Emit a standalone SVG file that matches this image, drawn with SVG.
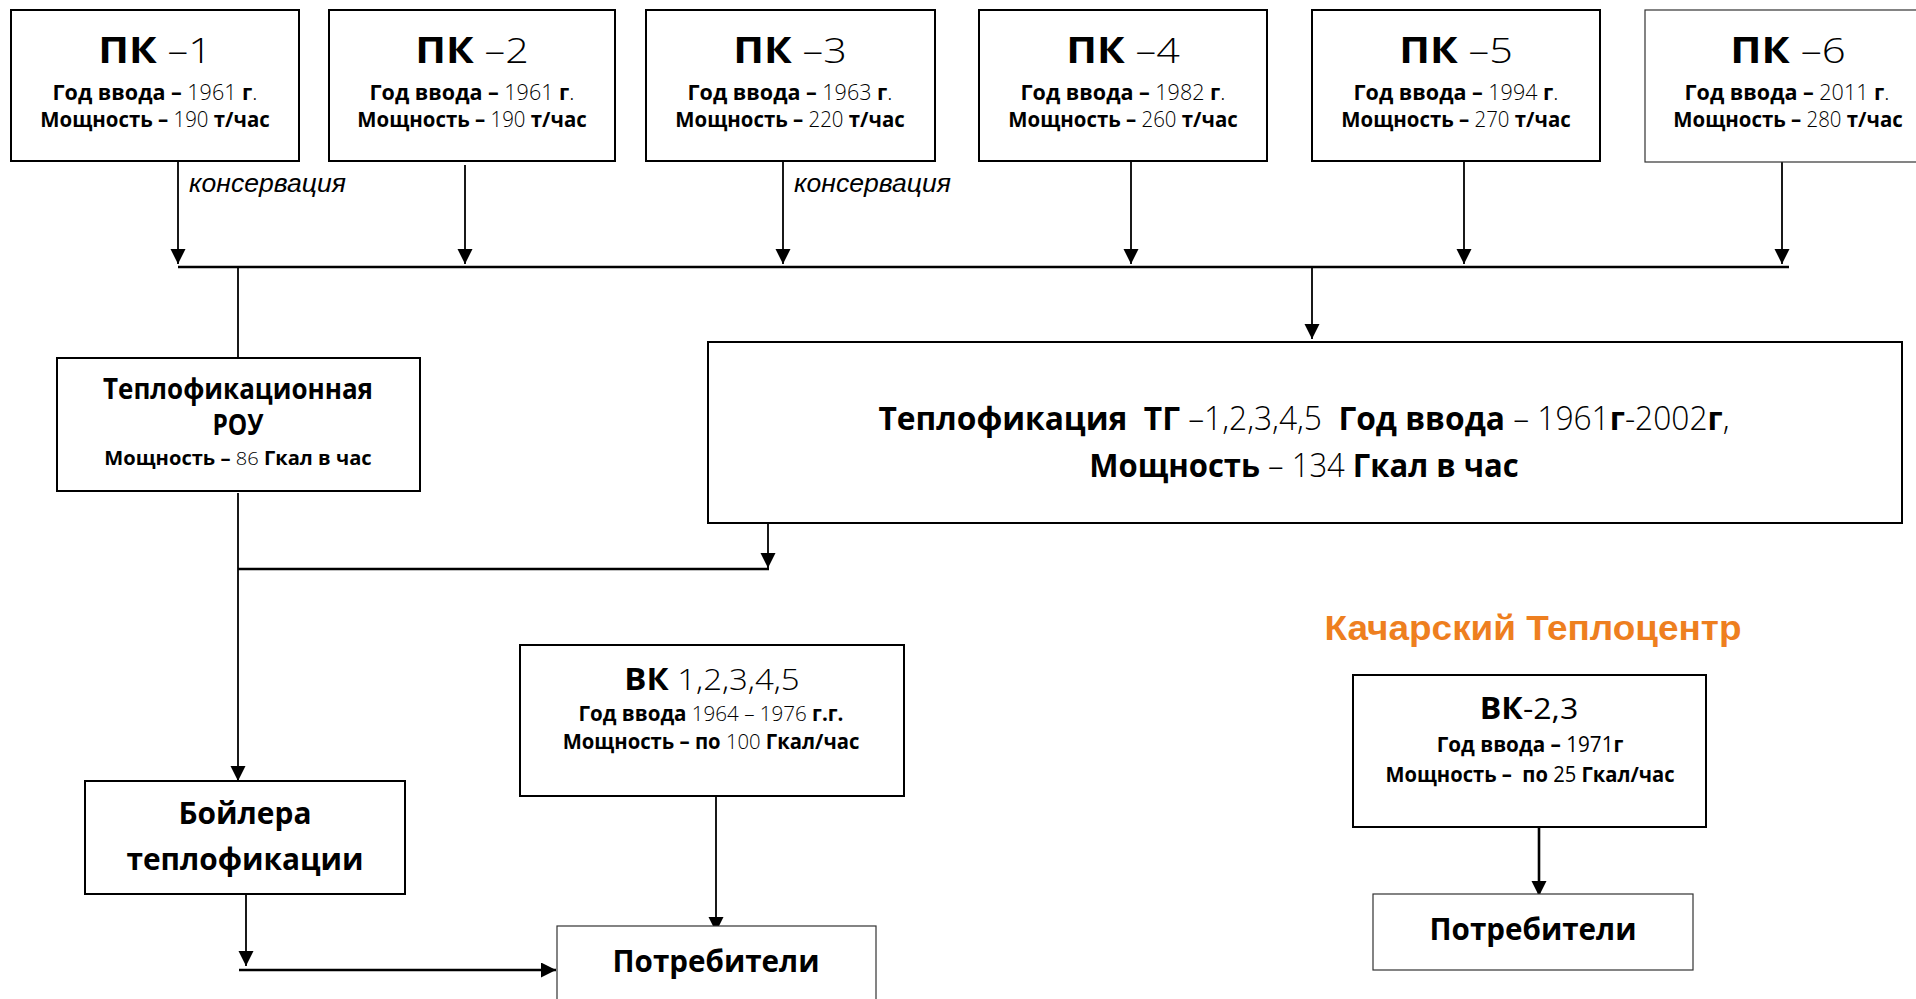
<svg xmlns="http://www.w3.org/2000/svg" width="1916" height="999" viewBox="0 0 1916 999">
<style>
.bg{fill:#fff}
.box{fill:#fff;stroke:#000;stroke-width:2}
.thin{fill:#fff;stroke:#333;stroke-width:1.2}
text{font-family:"Open Sans","Noto Sans","DejaVu Sans",sans-serif;font-weight:700;fill:#000;text-anchor:middle}
.n{font-weight:300}
.r{font-weight:400}
.t1{font-size:35px}
.t2{font-size:21.5px}
.t3{font-size:30px}
.tg{font-size:33px}
.it{font-family:"Liberation Sans",Arial,sans-serif;font-style:italic;font-weight:400;font-size:26px;text-anchor:start}
.org{font-family:"Liberation Sans",Arial,sans-serif;font-weight:700;font-size:35px;fill:#EE7F1F}
.c{fill:none;stroke:#000;stroke-width:1.8}
.bus{fill:none;stroke:#000;stroke-width:2.6}
</style>
<defs>
<marker id="ah" markerUnits="userSpaceOnUse" markerWidth="16" markerHeight="16" refX="15" refY="7.5" orient="auto">
<path d="M0,0 L15,7.5 L0,15 z" fill="#000"/>
</marker>
</defs>
<rect class="bg" x="0" y="0" width="1916" height="999"/>

<g id="connectors">
<line class="c" x1="178" y1="161" x2="178" y2="264" marker-end="url(#ah)"/>
<line class="c" x1="465" y1="165" x2="465" y2="264" marker-end="url(#ah)"/>
<line class="c" x1="783" y1="161" x2="783" y2="264" marker-end="url(#ah)"/>
<line class="c" x1="1131" y1="161" x2="1131" y2="264" marker-end="url(#ah)"/>
<line class="c" x1="1464" y1="161" x2="1464" y2="264" marker-end="url(#ah)"/>
<line class="c" x1="1782" y1="162" x2="1782" y2="264" marker-end="url(#ah)"/>
<line class="bus" x1="178" y1="267" x2="1789" y2="267"/>
<line class="c" x1="238" y1="267" x2="238" y2="358"/>
<line class="c" x1="1312" y1="267" x2="1312" y2="339" marker-end="url(#ah)"/>
<line class="c" x1="238" y1="493" x2="238" y2="781" marker-end="url(#ah)"/>
<line class="bus" x1="238" y1="569" x2="769" y2="569"/>
<line class="c" x1="768" y1="524" x2="768" y2="568" marker-end="url(#ah)"/>
<line class="c" x1="246" y1="894" x2="246" y2="966" marker-end="url(#ah)"/>
<line class="bus" x1="239" y1="970" x2="556" y2="970" marker-end="url(#ah)"/>
<line class="c" x1="716" y1="797" x2="716" y2="932" marker-end="url(#ah)"/>
<line class="bus" x1="1539" y1="827" x2="1539" y2="896" marker-end="url(#ah)"/>
<text class="it" x="189" y="192" textLength="157" lengthAdjust="spacingAndGlyphs">консервация</text>
<text class="it" x="794" y="192" textLength="157" lengthAdjust="spacingAndGlyphs">консервация</text>
</g>

<g id="pk1">
<rect class="box" x="11" y="10" width="288" height="151"/>
<text class="t1" transform="translate(155,63) scale(1.18,1)">ПК<tspan class="n"> –1</tspan></text>
<text class="t2" transform="translate(155,100) scale(1.0,1)">Год ввода –<tspan class="n"> 1961 </tspan>г<tspan class="n">.</tspan></text>
<text class="t2" transform="translate(155,127) scale(0.95,1)">Мощность –<tspan class="n"> 190 </tspan>т/час</text>
</g>
<g id="pk2">
<rect class="box" x="329" y="10" width="286" height="151"/>
<text class="t1" transform="translate(472,63) scale(1.18,1)">ПК<tspan class="n"> –2</tspan></text>
<text class="t2" transform="translate(472,100) scale(1.0,1)">Год ввода –<tspan class="n"> 1961 </tspan>г<tspan class="n">.</tspan></text>
<text class="t2" transform="translate(472,127) scale(0.95,1)">Мощность –<tspan class="n"> 190 </tspan>т/час</text>
</g>
<g id="pk3">
<rect class="box" x="646" y="10" width="289" height="151"/>
<text class="t1" transform="translate(790,63) scale(1.18,1)">ПК<tspan class="n"> –3</tspan></text>
<text class="t2" transform="translate(790,100) scale(1.0,1)">Год ввода –<tspan class="n"> 1963 </tspan>г<tspan class="n">.</tspan></text>
<text class="t2" transform="translate(790,127) scale(0.95,1)">Мощность –<tspan class="n"> 220 </tspan>т/час</text>
</g>
<g id="pk4">
<rect class="box" x="979" y="10" width="288" height="151"/>
<text class="t1" transform="translate(1123,63) scale(1.18,1)">ПК<tspan class="n"> –4</tspan></text>
<text class="t2" transform="translate(1123,100) scale(1.0,1)">Год ввода –<tspan class="n"> 1982 </tspan>г<tspan class="n">.</tspan></text>
<text class="t2" transform="translate(1123,127) scale(0.95,1)">Мощность –<tspan class="n"> 260 </tspan>т/час</text>
</g>
<g id="pk5">
<rect class="box" x="1312" y="10" width="288" height="151"/>
<text class="t1" transform="translate(1456,63) scale(1.18,1)">ПК<tspan class="n"> –5</tspan></text>
<text class="t2" transform="translate(1456,100) scale(1.0,1)">Год ввода –<tspan class="n"> 1994 </tspan>г<tspan class="n">.</tspan></text>
<text class="t2" transform="translate(1456,127) scale(0.95,1)">Мощность –<tspan class="n"> 270 </tspan>т/час</text>
</g>
<g id="pk6">
<rect class="thin" x="1645" y="10" width="290" height="152"/>
<text class="t1" transform="translate(1788,63) scale(1.2,1)">ПК<tspan class="n"> –6</tspan></text>
<text class="t2" transform="translate(1787,100) scale(1.0,1)">Год ввода –<tspan class="n"> 2011 </tspan>г<tspan class="n">.</tspan></text>
<text class="t2" transform="translate(1788,127) scale(0.95,1)">Мощность –<tspan class="n"> 280 </tspan>т/час</text>
</g>

<g id="rou">
<rect class="box" x="57" y="358" width="363" height="133"/>
<text class="t3" x="238" y="399" style="font-size:29px" textLength="270" lengthAdjust="spacingAndGlyphs">Теплофикационная</text>
<text class="t3" x="238" y="435" style="font-size:29px" textLength="51" lengthAdjust="spacingAndGlyphs">РОУ</text>
<text class="t2" style="font-size:19px" transform="translate(238,465) scale(1.06,1)">Мощность –<tspan class="n"> 86 </tspan>Гкал в час</text>
</g>

<g id="tg">
<rect class="box" x="708" y="342" width="1194" height="181"/>
<text class="tg" transform="translate(1304,430) scale(0.962,1)">Теплофикация&#160; ТГ<tspan class="n"> –1,2,3,4,5&#160; </tspan>Год ввода<tspan class="n"> – 1961</tspan>г<tspan class="n">-2002</tspan>г<tspan class="n">,</tspan></text>
<text class="tg" transform="translate(1304,477) scale(0.94,1)">Мощность<tspan class="n"> – 134 </tspan>Гкал в час</text>
</g>

<g id="boiler">
<rect class="box" x="85" y="781" width="320" height="113"/>
<text class="t3" x="245" y="824" textLength="133" lengthAdjust="spacingAndGlyphs">Бойлера</text>
<text class="t3" x="245" y="870" textLength="237" lengthAdjust="spacingAndGlyphs">теплофикации</text>
</g>

<g id="vk15">
<rect class="box" x="520" y="645" width="384" height="151"/>
<text class="t3" transform="translate(712,690) scale(1.1,1)">ВК<tspan class="n"> 1,2,3,4,5</tspan></text>
<text class="t2" style="font-size:21px" transform="translate(711,721) scale(0.98,1)">Год ввода<tspan class="n"> 1964 – 1976 </tspan>г.г.</text>
<text class="t2" style="font-size:21px" transform="translate(711,749) scale(0.965,1)">Мощность – по<tspan class="n"> 100 </tspan>Гкал/час</text>
</g>

<g id="cons1">
<rect class="thin" x="557" y="926" width="319" height="90"/>
<text class="t3" x="716" y="972" textLength="207" lengthAdjust="spacingAndGlyphs">Потребители</text>
</g>

<g id="kachar-title">
<text class="org" x="1533" y="640" textLength="417" lengthAdjust="spacingAndGlyphs">Качарский Теплоцентр</text>
</g>

<g id="vk23">
<rect class="box" x="1353" y="675" width="353" height="152"/>
<text class="t3" transform="translate(1529,719) scale(1.07,1)">ВК<tspan class="r">-2,3</tspan></text>
<text class="t2" style="font-size:21px" transform="translate(1530,752) scale(0.985,1)">Год ввода –<tspan class="r"> 1971</tspan>г</text>
<text class="t2" style="font-size:21px" transform="translate(1530,782) scale(0.96,1)">Мощность –&#160; по<tspan class="r"> 25 </tspan>Гкал/час</text>
</g>

<g id="cons2">
<rect class="thin" x="1373" y="894" width="320" height="76"/>
<text class="t3" x="1533" y="940" style="font-size:31px" textLength="207" lengthAdjust="spacingAndGlyphs">Потребители</text>
</g>
</svg>
